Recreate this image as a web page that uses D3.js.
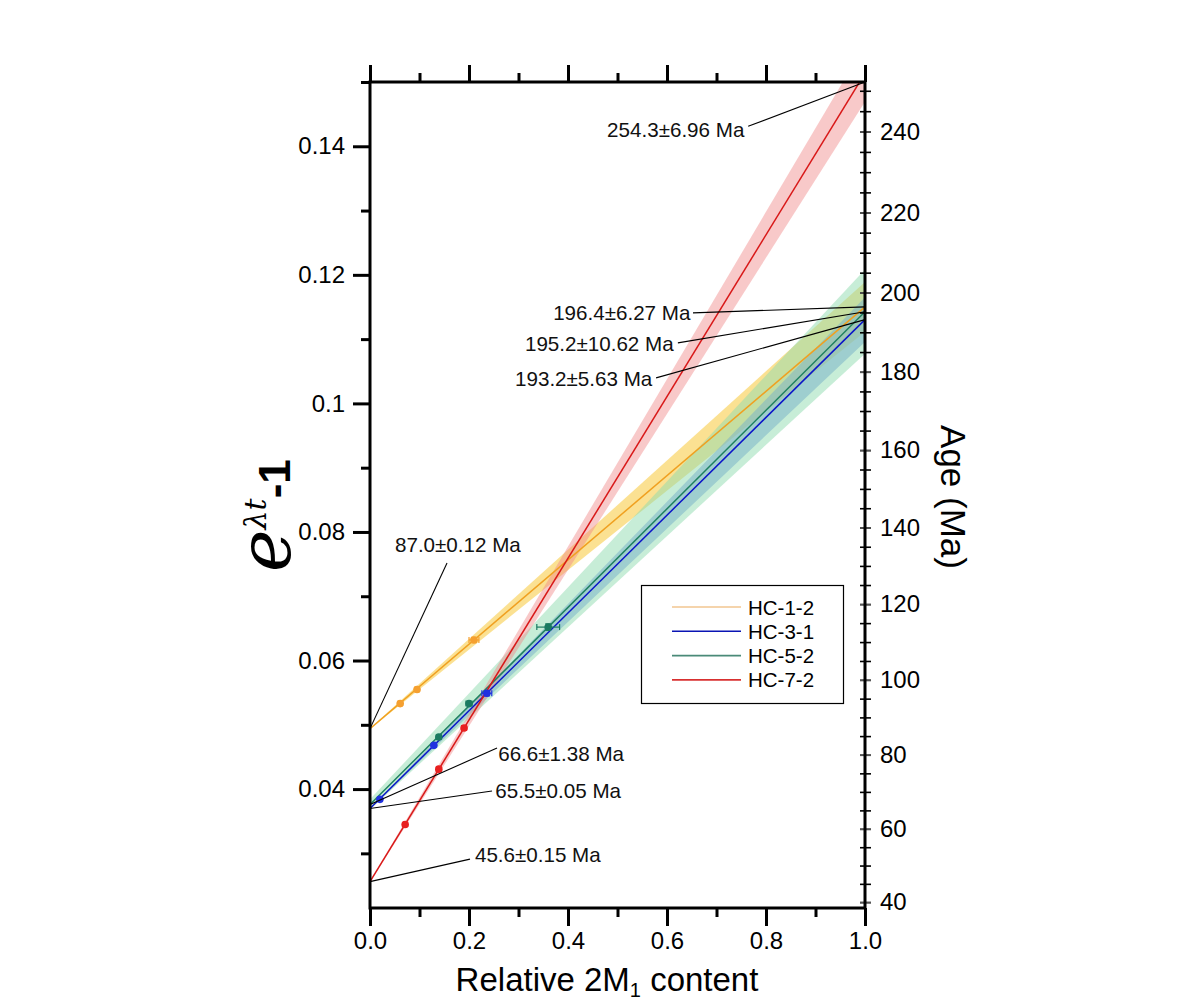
<!DOCTYPE html>
<html><head><meta charset="utf-8">
<script src="https://cdn.jsdelivr.net/npm/d3@7"></script>
<style>body{margin:0;background:#fff}</style>
</head><body>
<svg id="c" width="1190" height="1003" xmlns="http://www.w3.org/2000/svg"></svg>
<script>
// ---------- data ----------
const LAMBDA = 5.543e-4; // decay constant, per Ma
const samples = ["HC-1-2", "HC-3-1", "HC-5-2", "HC-7-2"];
const interceptAge = [87.0, 65.5, 66.6, 45.6];
const interceptErr = [0.12, 0.05, 1.38, 0.15];
const endAge = [196.4, 193.2, 195.2, 254.3];
const endErr = [6.27, 5.63, 10.62, 6.96];

const ptsX = [[0.061, 0.095, 0.210], [0.020, 0.129, 0.236], [0.139, 0.200, 0.360], [0.071, 0.139, 0.190]];
const ptsY = [[0.0533, 0.0555, 0.0632], [0.0384, 0.0468, 0.0549], [0.0481, 0.0533, 0.0652], [0.0345, 0.0431, 0.0495]];
const ptsXErr = [[0.004, 0.004, 0.010], [0.004, 0.003, 0.010], [0.004, 0.006, 0.023], [0.003, 0.004, 0.005]];
const ptsYErr = [[0.0003, 0.0003, 0.0004], [0.0003, 0.0003, 0.0004], [0.0003, 0.0003, 0.0005], [0.0003, 0.0003, 0.0003]];

const xMajor = [0, 0.2, 0.4, 0.6, 0.8, 1.0];
const xMajorLabels = ["0.0", "0.2", "0.4", "0.6", "0.8", "1.0"];
const xMinor = [0.1, 0.3, 0.5, 0.7, 0.9];
const yMajor = [0.04, 0.06, 0.08, 0.10, 0.12, 0.14];
const yMajorLabels = ["0.04", "0.06", "0.08", "0.1", "0.12", "0.14"];
const yMinor = [0.03, 0.05, 0.07, 0.09, 0.11, 0.13, 0.15];
const ageLabels = [40, 60, 80, 100, 120, 140, 160, 180, 200, 220, 240];
const ageTicks = d3.range(40, 251, 5);

// annotation texts
const annText = ["254.3\u00b16.96 Ma", "196.4\u00b16.27 Ma", "195.2\u00b110.62 Ma", "193.2\u00b15.63 Ma",
                 "87.0\u00b10.12 Ma", "66.6\u00b11.38 Ma", "65.5\u00b10.05 Ma", "45.6\u00b10.15 Ma"];
const annAge = [254.3, 196.4, 195.2, 193.2, 87.0, 66.6, 65.5, 45.6];
const annSide = [1, 1, 1, 1, 0, 0, 0, 0];

// ---------- layout / style ----------
const lineColor = ["#f0a020", "#0a14c8", "#1f8060", "#d81818"];
const legendColor = ["#f2c690", "#0a14b4", "#4a8a78", "#d83030"];
const bandColor = ["#f7c838", "#6a8ee0", "#90dcb0", "#f08888"];
const bandOpacity = [0.55, 0.55, 0.5, 0.45];
const ptColor = ["#f5a030", "#2030e0", "#1a7a60", "#e82020"];
// annotation layout, in data coordinates: text start & baseline, leader start
const annTX = [0.479, 0.370, 0.313, 0.293, 0.0505, 0.259, 0.253, 0.212];
const annTY = [0.1414, 0.1130, 0.10817, 0.10272, 0.07689, 0.04436, 0.0386, 0.02864];
const annLX = [0.764, 0.6525, 0.622, 0.578, 0.1556, 0.2566, 0.2465, 0.202];
const annLY = [0.14311, 0.11409, 0.10942, 0.10397, 0.07518, 0.04638, 0.0397, 0.0291];

const ageToV = t => Math.exp(LAMBDA * t) - 1;

const svg = d3.select("#c");
const M = {l: 370, r: 865, t: 82, b: 908};
const x = d3.scaleLinear().domain([0, 1]).range([M.l, M.r]);
const y = d3.scaleLinear().domain([0.0215, 0.15]).range([M.b, M.t]);
const FONT = "'Liberation Sans', Arial, sans-serif";

svg.append("defs").append("clipPath").attr("id", "clip")
  .append("rect").attr("x", M.l).attr("y", M.t).attr("width", M.r - M.l).attr("height", M.b - M.t);

const plot = svg.append("g").attr("clip-path", "url(#clip)");

// bands
samples.forEach((s, i) => {
  const lo0 = ageToV(interceptAge[i] - interceptErr[i]), hi0 = ageToV(interceptAge[i] + interceptErr[i]);
  const lo1 = ageToV(endAge[i] - endErr[i]), hi1 = ageToV(endAge[i] + endErr[i]);
  const poly = [[0, hi0], [1, hi1], [1, lo1], [0, lo0]];
  plot.append("path")
    .attr("d", d3.line().x(d => x(d[0])).y(d => y(d[1]))(poly) + "Z")
    .attr("fill", bandColor[i]).attr("fill-opacity", bandOpacity[i]).attr("stroke", "none");
});
// fit lines
samples.forEach((s, i) => {
  plot.append("path")
    .attr("d", d3.line().x(d => x(d[0])).y(d => y(d[1]))([[0, ageToV(interceptAge[i])], [1, ageToV(endAge[i])]]))
    .attr("stroke", lineColor[i]).attr("stroke-width", 1.5).attr("fill", "none");
});
// points with error bars
samples.forEach((s, i) => {
  const g = plot.append("g").attr("stroke", ptColor[i]).attr("fill", ptColor[i]);
  ptsX[i].forEach((px, j) => {
    const py = ptsY[i][j], ex = ptsXErr[i][j], ey = ptsYErr[i][j];
    const cx = x(px), cy = y(py);
    g.append("line").attr("x1", x(px - ex)).attr("x2", x(px + ex)).attr("y1", cy).attr("y2", cy).attr("stroke-width", 1.2);
    g.append("line").attr("x1", x(px - ex)).attr("x2", x(px - ex)).attr("y1", cy - 3).attr("y2", cy + 3).attr("stroke-width", 1.2);
    g.append("line").attr("x1", x(px + ex)).attr("x2", x(px + ex)).attr("y1", cy - 3).attr("y2", cy + 3).attr("stroke-width", 1.2);
    g.append("line").attr("x1", cx).attr("x2", cx).attr("y1", y(py - ey)).attr("y2", y(py + ey)).attr("stroke-width", 1.2);
    g.append("line").attr("x1", cx - 3).attr("x2", cx + 3).attr("y1", y(py - ey)).attr("y2", y(py - ey)).attr("stroke-width", 1.2);
    g.append("line").attr("x1", cx - 3).attr("x2", cx + 3).attr("y1", y(py + ey)).attr("y2", y(py + ey)).attr("stroke-width", 1.2);
    g.append("circle").attr("cx", cx).attr("cy", cy).attr("r", 3.8).attr("stroke", "none");
  });
});

// annotations
annText.forEach((t, k) => {
  const endY = Math.min(ageToV(annAge[k]), y.domain()[1]);
  svg.append("line")
    .attr("x1", x(annLX[k])).attr("y1", y(annLY[k]))
    .attr("x2", x(annSide[k])).attr("y2", y(endY))
    .attr("stroke", "#000").attr("stroke-width", 1.1);
  svg.append("text").attr("x", x(annTX[k])).attr("y", y(annTY[k]))
    .attr("font-family", FONT).attr("font-size", 20.6).attr("fill", "#111").text(t);
});

// axes
function styleAxis(g, w) {
  g.select(".domain").remove();
  g.selectAll(".tick line").attr("stroke", "#000").attr("stroke-width", w);
  g.selectAll(".tick text").attr("font-family", FONT).attr("font-size", 24).attr("fill", "#000");
}
// bottom
svg.append("g").attr("transform", `translate(0,${M.b})`)
  .call(d3.axisBottom(x).tickValues(xMajor).tickSize(18).tickPadding(6).tickFormat((d, i) => xMajorLabels[i]))
  .call(g => styleAxis(g, 3));
svg.append("g").attr("transform", `translate(0,${M.b})`)
  .call(d3.axisBottom(x).tickValues(xMinor).tickSize(9).tickFormat(""))
  .call(g => styleAxis(g, 3));
// top
svg.append("g").attr("transform", `translate(0,${M.t})`)
  .call(d3.axisTop(x).tickValues(xMajor).tickSize(17).tickFormat(""))
  .call(g => styleAxis(g, 3));
svg.append("g").attr("transform", `translate(0,${M.t})`)
  .call(d3.axisTop(x).tickValues(xMinor).tickSize(9).tickFormat(""))
  .call(g => styleAxis(g, 3));
// left
svg.append("g").attr("transform", `translate(${M.l},0)`)
  .call(d3.axisLeft(y).tickValues(yMajor).tickSize(17).tickPadding(8).tickFormat((d, i) => yMajorLabels[i]))
  .call(g => styleAxis(g, 3));
svg.append("g").attr("transform", `translate(${M.l},0)`)
  .call(d3.axisLeft(y).tickValues(yMinor).tickSize(9).tickFormat(""))
  .call(g => styleAxis(g, 3));
// right (age)
const rightMinor = svg.append("g").attr("transform", `translate(${M.r},0)`)
  .call(d3.axisRight(y).tickValues(ageTicks.map(ageToV)).tickSize(5).tickFormat(""))
  .call(g => styleAxis(g, 1.6));
rightMinor.selectAll(".tick line").attr("x1", -5).attr("x2", 6);
svg.append("g").attr("transform", `translate(${M.r},0)`)
  .call(d3.axisRight(y).tickValues(ageLabels.map(ageToV)).tickSize(6).tickPadding(9).tickFormat((d, i) => ageLabels[i]))
  .call(g => styleAxis(g, 1.6))
  .call(g => g.selectAll(".tick line").attr("x1", -5).attr("stroke", "#555"));

// frame
svg.append("rect").attr("x", M.l).attr("y", M.t).attr("width", M.r - M.l).attr("height", M.b - M.t)
  .attr("fill", "none").attr("stroke", "#000").attr("stroke-width", 3);

// legend
const lg = svg.append("g");
lg.append("rect").attr("x", 641.5).attr("y", 585.5).attr("width", 202).attr("height", 118)
  .attr("fill", "#fff").attr("stroke", "#000").attr("stroke-width", 1.2);
samples.forEach((s, i) => {
  const yy = 607 + i * 24.3;
  lg.append("line").attr("x1", 672).attr("x2", 741).attr("y1", yy).attr("y2", yy)
    .attr("stroke", legendColor[i]).attr("stroke-width", 1.6);
  lg.append("text").attr("x", 748).attr("y", yy + 7.5).attr("font-family", FONT).attr("font-size", 20.5)
    .attr("fill", "#000").text(s);
});

// axis titles
const xt = svg.append("text").attr("x", 607).attr("y", 991).attr("text-anchor", "middle")
  .attr("font-family", FONT).attr("font-size", 33).attr("fill", "#000");
xt.append("tspan").text("Relative 2M");
xt.append("tspan").attr("font-size", 20).attr("dy", 6).text("1");
xt.append("tspan").attr("dy", -6).text(" content");

svg.append("text").attr("transform", "translate(941,497) rotate(90)").attr("text-anchor", "middle")
  .attr("font-family", FONT).attr("font-size", 35).attr("fill", "#000").text("Age (Ma)");

const yt = svg.append("text").attr("transform", "translate(290,572) rotate(-90)").attr("text-anchor", "start")
  .attr("fill", "#000");
yt.append("tspan").attr("font-family", "'DejaVu Serif', serif").attr("font-style", "italic")
  .attr("font-size", 72).text("e");
yt.append("tspan").attr("font-family", "'DejaVu Serif', serif").attr("font-style", "italic")
  .attr("font-size", 30).attr("dy", -24).text("\u03bbt");
yt.append("tspan").attr("font-family", FONT).attr("font-weight", "bold")
  .attr("font-size", 44).attr("dy", 24).text("-1");
</script>
</body></html>
